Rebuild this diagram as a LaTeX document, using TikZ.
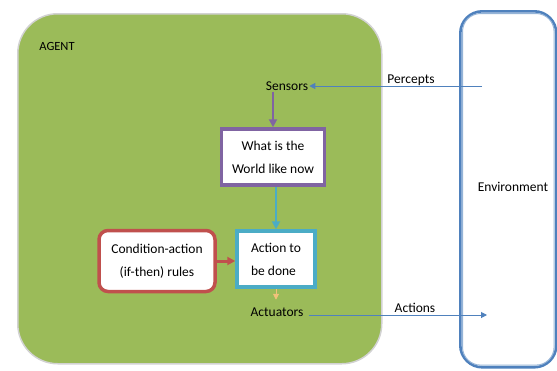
\documentclass[tikz,border=0pt]{standalone}
\usepackage{fontspec}
\setmainfont{Carlito}
\usetikzlibrary{arrows.meta}
\definecolor{agentgreen}{HTML}{9BBB59}
\definecolor{purp}{HTML}{8064A2}
\definecolor{cyanb}{HTML}{4BACC6}
\definecolor{redb}{HTML}{C0504D}
\definecolor{blueb}{HTML}{4F81BD}
\definecolor{tan}{HTML}{F2C27A}
\tikzset{
  lbl/.style={font=\fontsize{13.5}{22}\selectfont, inner sep=1pt},
  boxw/.style={draw, fill=white, line width=3.5pt, font=\fontsize{13.5}{23}\selectfont, align=center},
  arr/.style={-{Triangle[length=6pt,width=6pt]}, line width=1pt},
  bigarr/.style={-{Triangle[length=8pt,width=8pt]}},
}
\begin{document}
\begin{tikzpicture}[x=1pt,y=-1pt]
\useasboundingbox (0,0) rectangle (557,370);
% agent box
\node[draw=gray!35, line width=1.5pt, fill=agentgreen, rounded corners=40pt, minimum width=364pt, minimum height=350pt, anchor=north west] (agent) at (17,13) {};
\node[lbl, font=\fontsize{12.5}{14}\selectfont] (agentlbl) at (57,46) {AGENT};
% environment
\node[draw=blueb, line width=2.6pt, fill=white, rounded corners=22pt, minimum width=96pt, minimum height=356pt, anchor=north west] (env) at (459,10) {};
\draw[blueb!60, line width=1pt, rounded corners=18pt] ([xshift=3.5pt,yshift=-3.5pt]env.north west) rectangle ([xshift=-3.5pt,yshift=3.5pt]env.south east);
\node[lbl] (envlbl) at (513,187) {Environment};
% nodes
\node[lbl] (sensors) at (287,86) {Sensors};
\node[boxw, draw=purp, minimum width=103pt, minimum height=56pt] (what) at (273,157) {What is the\\World like now};
\node[boxw, draw=cyanb, minimum width=78pt, minimum height=56pt, align=left] (action) at (276,259) {Action to\\be done};
\node[boxw, draw=redb, rounded corners=9pt, minimum width=116pt, minimum height=61pt] (cond) at (157,261) {Condition-action\\(if-then) rules};
\node[lbl] (act) at (277,312) {Actuators};
\node[lbl] (percepts) at (411,80) {Percepts};
\node[lbl] (actions) at (415,308) {Actions};
\coordinate (pin) at (482,86);
\coordinate (aout) at (487,315);
% connectors
\draw[arr, blueb] (pin) -- (sensors.east);
\draw[bigarr, purp, line width=2.2pt] (what.north |- sensors.south) -- (what.north);
\draw[bigarr, cyanb, line width=2.2pt] (what.south -| action.north) -- (action.north);
\draw[bigarr, redb, line width=3pt] (cond.east) -- (action.west |- cond.east);
\draw[arr, tan] (action.south) -- ++(0,11);
\draw[arr, blueb] (act.east |- aout) ++(4,0) -- (aout);
\end{tikzpicture}
\end{document}
